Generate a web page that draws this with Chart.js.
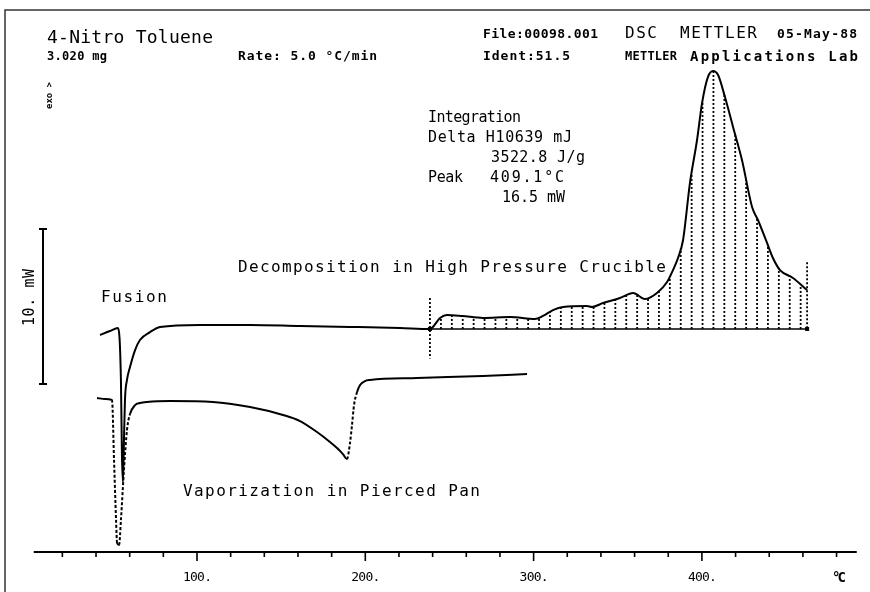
<!DOCTYPE html>
<html>
<head>
<meta charset="utf-8">
<script src="https://cdn.jsdelivr.net/npm/chart.js@4.4.1/dist/chart.umd.min.js"></script>
<style>
    html, body { margin: 0; padding: 0; background: #fff; }
    #dsc { display: block; }
</style>
</head>
<body>
<canvas id="dsc" width="870" height="592"></canvas>
<script>
// 高压坩埚曲线 (上) — 温度 °C / 热流 mW
const tempsUpper = [42.4, 48.3, 53.1, 54.8, 55.4, 56.0, 56.6, 57.2, 58.4, 60.2, 63.2, 66.1, 72.1, 78.0,
    101.8, 131.5, 161.2, 190.9, 220.6, 238.4, 244.4, 248.5, 257.5, 269.9, 286.0, 300.8, 305.6, 311.5,
    317.5, 331.7, 334.7, 341.2, 351.3, 359.1, 366.2, 373.3, 379.3, 382.8, 385.8, 388.8, 392.9, 397.1,
    400.1, 403.6, 406.6, 409.6, 413.7, 418.5, 423.8, 429.8, 433.3, 438.7, 442.2, 446.4, 454.1, 462.5];
const powerUpper = [14.00, 14.26, 14.45, 11.10, 6.26, 4.52, 7.23, 9.81, 11.10, 11.94, 13.03, 13.68, 14.19, 14.52,
    14.65, 14.65, 14.58, 14.52, 14.45, 14.39, 15.10, 15.29, 15.23, 15.10, 15.16, 15.03, 15.23, 15.61,
    15.81, 15.87, 15.81, 16.06, 16.39, 16.71, 16.32, 16.71, 17.42, 18.19, 18.97, 20.13, 23.81, 26.58,
    28.97, 30.65, 31.03, 30.77, 29.35, 27.42, 25.29, 22.26, 21.42, 19.94, 18.97, 18.19, 17.68, 16.90];

// 穿孔盘曲线 (下)
const tempsLower = [40.6, 45.3, 49.5, 50.7, 51.9, 52.5, 53.7, 54.8, 56.6, 58.4, 60.2, 63.2, 66.1, 70.3,
    84.0, 109.5, 131.5, 151.1, 161.2, 171.3, 179.0, 183.2, 186.7, 189.1, 190.9, 192.1, 193.3, 195.1,
    196.9, 199.8, 202.8, 230.7, 269.9, 296.1];
const powerLower = [9.94, 9.87, 9.81, 5.94, 2.06, 0.58, 0.45, 2.06, 5.29, 7.87, 8.90, 9.48, 9.61, 9.68,
    9.74, 9.68, 9.35, 8.84, 8.45, 7.74, 7.10, 6.71, 6.32, 6.00, 7.03, 8.19, 9.48, 10.32,
    10.77, 11.03, 11.10, 11.23, 11.35, 11.48];

// 坐标轴
const majorTicks = [100, 200, 300, 400];
const majorLabels = ['100.', '200.', '300.', '400.'];
const minorTicks = [20, 40, 60, 80, 120, 140, 160, 180, 220, 240, 260, 280, 320, 340, 360, 380, 420, 440, 460, 480];

// 积分区间
const integStart = 238.4;
const integEnd = 462.5;
const integBase = 14.39;

// 比例尺 10 mW
const scaleBarT = 8.5;
const scaleBarLow = 10.84;
const scaleBarSize = 10;

const FONT = '"DejaVu Sans Mono", monospace';

// 按目标宽度绘制文字
function fitText(ctx, s, x, y, w, font) {
    ctx.font = font;
    ctx.letterSpacing = '0px';
    const m = ctx.measureText(s).width;
    if (s.length > 1) ctx.letterSpacing = ((w - m) / (s.length - 1)) + 'px';
    ctx.fillText(s, x, y);
    ctx.letterSpacing = '0px';
}

// 曲线在某像素x处的y
function curveY(meta, px) {
    const pts = meta.data;
    for (let i = 1; i < pts.length; i++) {
        if (pts[i].x >= px) {
            const a = pts[i - 1], b = pts[i];
            const t = (px - a.x) / (b.x - a.x || 1);
            return a.y + t * (b.y - a.y);
        }
    }
    return pts[pts.length - 1].y;
}

const decorPlugin = {
    id: 'decor',
    beforeDatasetsDraw(chart) {
        const ctx = chart.ctx;
        const xs = chart.scales.x, ys = chart.scales.y;
        const meta = chart.getDatasetMeta(0);
        const x0 = xs.getPixelForValue(integStart);
        const x1 = xs.getPixelForValue(integEnd);
        const yb = ys.getPixelForValue(integBase);
        ctx.save();
        ctx.strokeStyle = '#000';
        // 积分阴影
        ctx.lineWidth = 1.8;
        ctx.setLineDash([2, 2]);
        for (let px = x0 + 11; px < x1 - 3; px += 10.9) {
            const cy = curveY(meta, px);
            ctx.beginPath();
            ctx.moveTo(px, yb);
            ctx.lineTo(px, cy);
            ctx.stroke();
        }
        // 积分界限
        ctx.beginPath();
        ctx.moveTo(x0, ys.getPixelForValue(integBase + 2.0));
        ctx.lineTo(x0, ys.getPixelForValue(integBase - 1.9));
        ctx.moveTo(x1, ys.getPixelForValue(integBase + 4.3));
        ctx.lineTo(x1, yb);
        ctx.stroke();
        ctx.setLineDash([]);
        // 基线
        ctx.lineWidth = 1.5;
        ctx.beginPath();
        ctx.moveTo(x0, yb);
        ctx.lineTo(x1, yb);
        ctx.stroke();
        ctx.fillStyle = '#000';
        ctx.fillRect(x0 - 2, yb - 2, 4, 4);
        ctx.fillRect(x1 - 2, yb - 2, 4, 4);
        ctx.restore();
    },
    afterDraw(chart) {
        const ctx = chart.ctx;
        const xs = chart.scales.x, ys = chart.scales.y;
        ctx.save();
        ctx.strokeStyle = '#000';
        ctx.fillStyle = '#000';

        // 边框
        ctx.lineWidth = 1.5;
        ctx.strokeStyle = '#333';
        ctx.beginPath();
        ctx.moveTo(5, 592);
        ctx.lineTo(5, 10);
        ctx.lineTo(870, 10);
        ctx.stroke();
        ctx.strokeStyle = '#000';

        // x 轴
        const ya = ys.getPixelForValue(0);
        ctx.lineWidth = 2;
        ctx.beginPath();
        ctx.moveTo(xs.getPixelForValue(3), ya);
        ctx.lineTo(xs.getPixelForValue(492), ya);
        ctx.stroke();
        ctx.lineWidth = 1.6;
        ctx.beginPath();
        minorTicks.forEach(t => {
            const px = xs.getPixelForValue(t);
            ctx.moveTo(px, ya);
            ctx.lineTo(px, ya + 5);
        });
        majorTicks.forEach(t => {
            const px = xs.getPixelForValue(t);
            ctx.moveTo(px, ya);
            ctx.lineTo(px, ya + 9);
        });
        ctx.stroke();
        ctx.textBaseline = 'middle';
        majorTicks.forEach((t, i) => {
            const px = xs.getPixelForValue(t);
            fitText(ctx, majorLabels[i], px - 14, 578, 29, '13px ' + FONT);
        });
        fitText(ctx, '°C', 832, 578, 14, 'bold 14px ' + FONT);

        // 比例尺
        const bx = xs.getPixelForValue(scaleBarT);
        const by0 = ys.getPixelForValue(scaleBarLow);
        const by1 = ys.getPixelForValue(scaleBarLow + scaleBarSize);
        ctx.lineWidth = 2;
        ctx.beginPath();
        ctx.moveTo(bx, by0); ctx.lineTo(bx, by1);
        ctx.moveTo(bx - 4, by0); ctx.lineTo(bx + 4, by0);
        ctx.moveTo(bx - 4, by1); ctx.lineTo(bx + 4, by1);
        ctx.stroke();

        ctx.save();
        ctx.translate(30, 326);
        ctx.rotate(-Math.PI / 2);
        fitText(ctx, '10. mW', 0, 0, 57, '15px ' + FONT);
        ctx.restore();

        ctx.save();
        ctx.translate(50, 109);
        ctx.rotate(-Math.PI / 2);
        fitText(ctx, 'exo >', 0, 0, 27, 'bold 9px ' + FONT);
        ctx.restore();

        // 表头
        fitText(ctx, '4-Nitro Toluene', 47, 38, 166, '18px ' + FONT);
        fitText(ctx, '3.020 mg', 47, 57, 60, 'bold 12px ' + FONT);
        fitText(ctx, 'Rate: 5.0 °C/min', 238, 57, 139, 'bold 13px ' + FONT);
        fitText(ctx, 'File:00098.001', 483, 35, 115, 'bold 13px ' + FONT);
        fitText(ctx, 'DSC', 625, 34, 32, '16px ' + FONT);
        fitText(ctx, 'METTLER', 680, 34, 77, '16px ' + FONT);
        fitText(ctx, '05-May-88', 777, 35, 80, 'bold 13px ' + FONT);
        fitText(ctx, 'Ident:51.5', 483, 57, 87, 'bold 13px ' + FONT);
        fitText(ctx, 'METTLER', 625, 57, 52, 'bold 12px ' + FONT);
        fitText(ctx, 'Applications Lab', 690, 57, 168, 'bold 14px ' + FONT);

        // 积分结果
        fitText(ctx, 'Integration', 428, 118, 93, '15px ' + FONT);
        fitText(ctx, 'Delta H10639 mJ', 428, 138, 144, '15px ' + FONT);
        fitText(ctx, '3522.8 J/g', 491, 158, 94, '15px ' + FONT);
        fitText(ctx, 'Peak', 428, 178, 35, '15px ' + FONT);
        fitText(ctx, '409.1°C', 490, 178, 74, '15px ' + FONT);
        fitText(ctx, '16.5 mW', 502, 198, 63, '15px ' + FONT);

        // 注释
        fitText(ctx, 'Decomposition in High Pressure Crucible', 238, 268, 428, '16px ' + FONT);
        fitText(ctx, 'Fusion', 101, 298, 66, '16px ' + FONT);
        fitText(ctx, 'Vaporization in Pierced Pan', 183, 492, 297, '16px ' + FONT);
        ctx.restore();
    }
};

const toPoints = (ts, ps) => ts.map((t, i) => ({ x: t, y: ps[i] }));

new Chart(document.getElementById('dsc'), {
    type: 'line',
    data: {
        datasets: [
            {
                label: 'High Pressure Crucible',
                data: toPoints(tempsUpper, powerUpper),
                borderColor: '#000',
                borderWidth: 2,
                pointRadius: 0,
                cubicInterpolationMode: 'monotone'
            },
            {
                label: 'Pierced Pan',
                data: toPoints(tempsLower, powerLower),
                borderColor: '#000',
                borderWidth: 2,
                pointRadius: 0,
                cubicInterpolationMode: 'monotone',
                segment: {
                    borderDash: c => Math.abs(c.p1.y - c.p0.y) > 3 * Math.abs(c.p1.x - c.p0.x) ? [3, 2] : undefined
                }
            }
        ]
    },
    options: {
        responsive: false,
        animation: false,
        devicePixelRatio: 1,
        layout: { padding: { left: 28.7, right: 8.2, top: 9.5, bottom: 40 } },
        plugins: {
            legend: { display: false },
            tooltip: { enabled: false }
        },
        scales: {
            x: { type: 'linear', min: 0, max: 495, display: false },
            y: { type: 'linear', min: 0, max: 35, display: false }
        }
    },
    plugins: [decorPlugin]
});
</script>
</body>
</html>
